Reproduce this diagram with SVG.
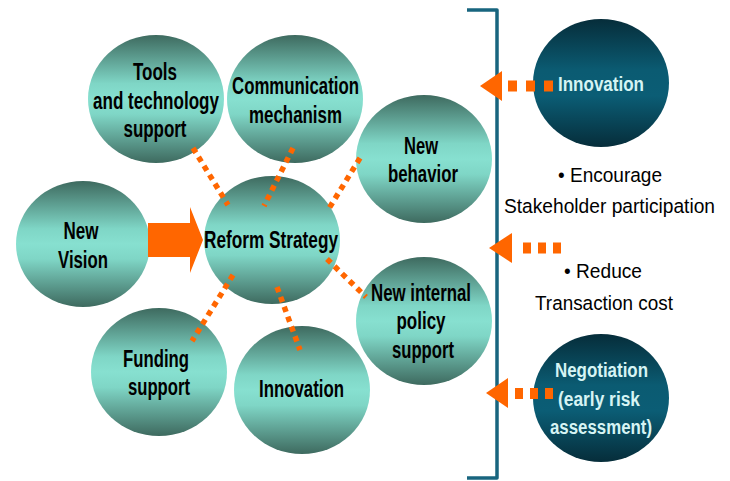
<svg xmlns="http://www.w3.org/2000/svg" width="730" height="481" viewBox="0 0 730 481">
<defs>
<linearGradient id="gl" x1="0" y1="0" x2="0" y2="1">
<stop offset="0" stop-color="#3e6a5f"/>
<stop offset="0.38" stop-color="#7fd6c6"/>
<stop offset="0.5" stop-color="#87e0d0"/>
<stop offset="0.62" stop-color="#7fd6c6"/>
<stop offset="1" stop-color="#3e6a5f"/>
</linearGradient>
<linearGradient id="gd" x1="0" y1="0" x2="0" y2="1">
<stop offset="0" stop-color="#062d3a"/>
<stop offset="0.4" stop-color="#0b5b72"/>
<stop offset="0.6" stop-color="#0b5d75"/>
<stop offset="1" stop-color="#062d3a"/>
</linearGradient>
<style>
.cl{fill:url(#gl)}
.cd{fill:url(#gd)}
.t{font-family:"Liberation Sans Narrow","Arial Narrow","Liberation Sans",Arial,sans-serif;font-weight:bold;font-size:23px;fill:#000;text-anchor:middle}
.tw{font-family:"Liberation Sans Narrow","Arial Narrow","Liberation Sans",Arial,sans-serif;font-weight:bold;font-size:20px;fill:#d6f4f4;text-anchor:middle}
.tr{font-family:"Liberation Sans Narrow","Arial Narrow","Liberation Sans",Arial,sans-serif;font-size:20.5px;fill:#000;text-anchor:middle}
.dot{stroke:#ff6600;stroke-width:5.5;stroke-dasharray:5.5 5;fill:none}
.da{stroke:#ff6600;stroke-width:11;fill:none}
.ah{fill:#ff6600}
</style>
</defs>
<rect width="730" height="481" fill="#ffffff"/>

<g id="bracket">
<path d="M467,10 H497 V478 H467" fill="none" stroke="#18657f" stroke-width="3.5" stroke-linejoin="round"/>
</g>

<g id="node-tools"><ellipse class="cl" cx="156" cy="99" rx="68" ry="64"/></g>
<g id="node-comm"><ellipse class="cl" cx="295" cy="99" rx="68" ry="64"/></g>
<g id="node-behavior"><ellipse class="cl" cx="424" cy="159" rx="68" ry="64"/></g>
<g id="node-vision"><ellipse class="cl" cx="83" cy="244" rx="67" ry="63"/></g>
<g id="node-reform"><ellipse class="cl" cx="272" cy="240" rx="68" ry="64"/></g>
<g id="node-funding"><ellipse class="cl" cx="159" cy="372" rx="68" ry="64"/></g>
<g id="node-innovation"><ellipse class="cl" cx="302" cy="390" rx="68" ry="64"/></g>
<g id="node-policy"><ellipse class="cl" cx="424" cy="321" rx="68" ry="64"/></g>
<g id="node-innovation2"><ellipse class="cd" cx="601" cy="83" rx="68" ry="64"/></g>
<g id="node-negotiation"><ellipse class="cd" cx="601" cy="398" rx="68" ry="64"/></g>

<g id="connectors">
<polygon class="ah" points="148,223 190,223 190,207 203,240 190,273 190,257 148,257"/>
<line class="dot" x1="193" y1="148" x2="228" y2="205"/>
<line class="dot" x1="293" y1="148" x2="264" y2="206"/>
<line class="dot" x1="360" y1="158" x2="328" y2="210"/>
<line class="dot" x1="327" y1="259" x2="366" y2="297"/>
<line class="dot" x1="233" y1="275" x2="192" y2="341"/>
<line class="dot" x1="277" y1="287" x2="300" y2="350"/>
<polygon class="ah" points="480,86 502,71 502,101"/>
<line class="da" x1="508" y1="86" x2="553" y2="86" stroke-dasharray="9 9"/>
<polygon class="ah" points="489,248 512,233 512,263"/>
<line class="da" x1="523" y1="248" x2="562" y2="248" stroke-dasharray="8 7"/>
<polygon class="ah" points="486,393 508,378 508,408"/>
<line class="da" x1="515" y1="393.5" x2="553" y2="393.5" stroke-dasharray="8 7"/>
</g>

<g id="labels">
<text class="t" x="155" y="80" textLength="44" lengthAdjust="spacingAndGlyphs">Tools</text>
<text class="t" x="156" y="109" textLength="126" lengthAdjust="spacingAndGlyphs">and technology</text>
<text class="t" x="155" y="137" textLength="63" lengthAdjust="spacingAndGlyphs">support</text>
<text class="t" x="295.5" y="94" textLength="127" lengthAdjust="spacingAndGlyphs">Communication</text>
<text class="t" x="295.5" y="123" textLength="93" lengthAdjust="spacingAndGlyphs">mechanism</text>
<text class="t" x="421" y="154" textLength="34" lengthAdjust="spacingAndGlyphs">New</text>
<text class="t" x="423" y="182" textLength="70" lengthAdjust="spacingAndGlyphs">behavior</text>
<text class="t" x="81" y="239" textLength="35" lengthAdjust="spacingAndGlyphs">New</text>
<text class="t" x="83" y="268" textLength="50" lengthAdjust="spacingAndGlyphs">Vision</text>
<text class="t" x="271" y="248" font-size="21" textLength="134" lengthAdjust="spacingAndGlyphs">Reform Strategy</text>
<text class="t" x="421" y="301" font-size="21" textLength="100" lengthAdjust="spacingAndGlyphs">New internal</text>
<text class="t" x="421" y="329" font-size="21" textLength="49" lengthAdjust="spacingAndGlyphs">policy</text>
<text class="t" x="423" y="358" font-size="21" textLength="62" lengthAdjust="spacingAndGlyphs">support</text>
<text class="t" x="156" y="367" textLength="66" lengthAdjust="spacingAndGlyphs">Funding</text>
<text class="t" x="159" y="395" textLength="62" lengthAdjust="spacingAndGlyphs">support</text>
<text class="t" x="301.5" y="397" font-size="21" textLength="85" lengthAdjust="spacingAndGlyphs">Innovation</text>
<text class="tw" x="601" y="91" textLength="86" lengthAdjust="spacingAndGlyphs">Innovation</text>
<text class="tw" x="601.5" y="377" textLength="93" lengthAdjust="spacingAndGlyphs">Negotiation</text>
<text class="tw" x="599" y="406" textLength="82" lengthAdjust="spacingAndGlyphs">(early risk</text>
<text class="tw" x="601" y="434" textLength="102" lengthAdjust="spacingAndGlyphs">assessment)</text>
<text class="tr" x="610" y="182" textLength="104" lengthAdjust="spacingAndGlyphs">• Encourage</text>
<text class="tr" x="609.5" y="213" textLength="211" lengthAdjust="spacingAndGlyphs">Stakeholder participation</text>
<text class="tr" x="603" y="278" textLength="78" lengthAdjust="spacingAndGlyphs">• Reduce</text>
<text class="tr" x="604" y="310" textLength="138" lengthAdjust="spacingAndGlyphs">Transaction cost</text>
</g>
</svg>
